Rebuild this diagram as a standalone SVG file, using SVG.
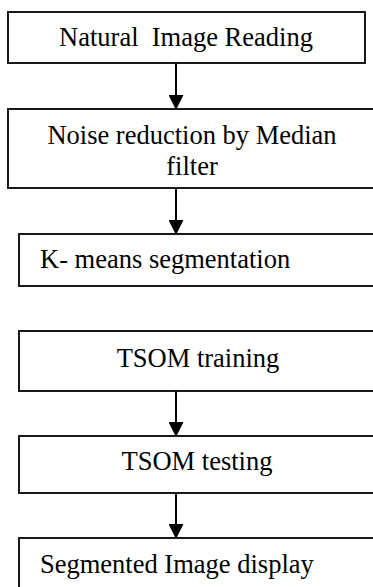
<svg xmlns="http://www.w3.org/2000/svg" width="373" height="587" viewBox="0 0 373 587">
<defs>
<style>
.box{fill:#fff;stroke:#000;stroke-width:1.8}
.t{font-family:"Liberation Serif","Times New Roman",serif;font-size:26.5px;fill:#000}
.c{stroke:#000;stroke-width:2;fill:none}
</style>
<marker id="ah" markerWidth="16" markerHeight="15" refX="15" refY="8" orient="auto" markerUnits="userSpaceOnUse" viewBox="0 0 16 16">
<path d="M0,0 L16,8 L0,16 Z" fill="#000"/>
</marker>
</defs>
<rect width="373" height="587" fill="#fff"/>
<g id="node1"><rect class="box" x="8" y="12" width="357" height="51"/><text class="t" x="186" y="46" text-anchor="middle" xml:space="preserve">Natural  Image Reading</text></g>
<g id="node2"><rect class="box" x="8" y="109" width="380" height="79"/><text class="t" x="192" y="144" text-anchor="middle">Noise reduction by Median</text><text class="t" x="192" y="175" text-anchor="middle">filter</text></g>
<g id="node3"><rect class="box" x="19" y="234" width="370" height="52"/><text class="t" x="40" y="268">K- means segmentation</text></g>
<g id="node4"><rect class="box" x="19" y="331" width="370" height="60"/><text class="t" x="198" y="367" text-anchor="middle">TSOM training</text></g>
<g id="node5"><rect class="box" x="19" y="436" width="370" height="57"/><text class="t" x="197" y="470" text-anchor="middle">TSOM testing</text></g>
<g id="node6"><rect class="box" x="19" y="538" width="370" height="70"/><text class="t" x="40" y="573">Segmented Image display</text></g>
<g id="connectors">
<line class="c" x1="176" y1="63" x2="176" y2="109" marker-end="url(#ah)"/>
<line class="c" x1="176" y1="188" x2="176" y2="234" marker-end="url(#ah)"/>
<line class="c" x1="176" y1="391" x2="176" y2="436" marker-end="url(#ah)"/>
<line class="c" x1="176" y1="493" x2="176" y2="538" marker-end="url(#ah)"/>
</g>
</svg>
